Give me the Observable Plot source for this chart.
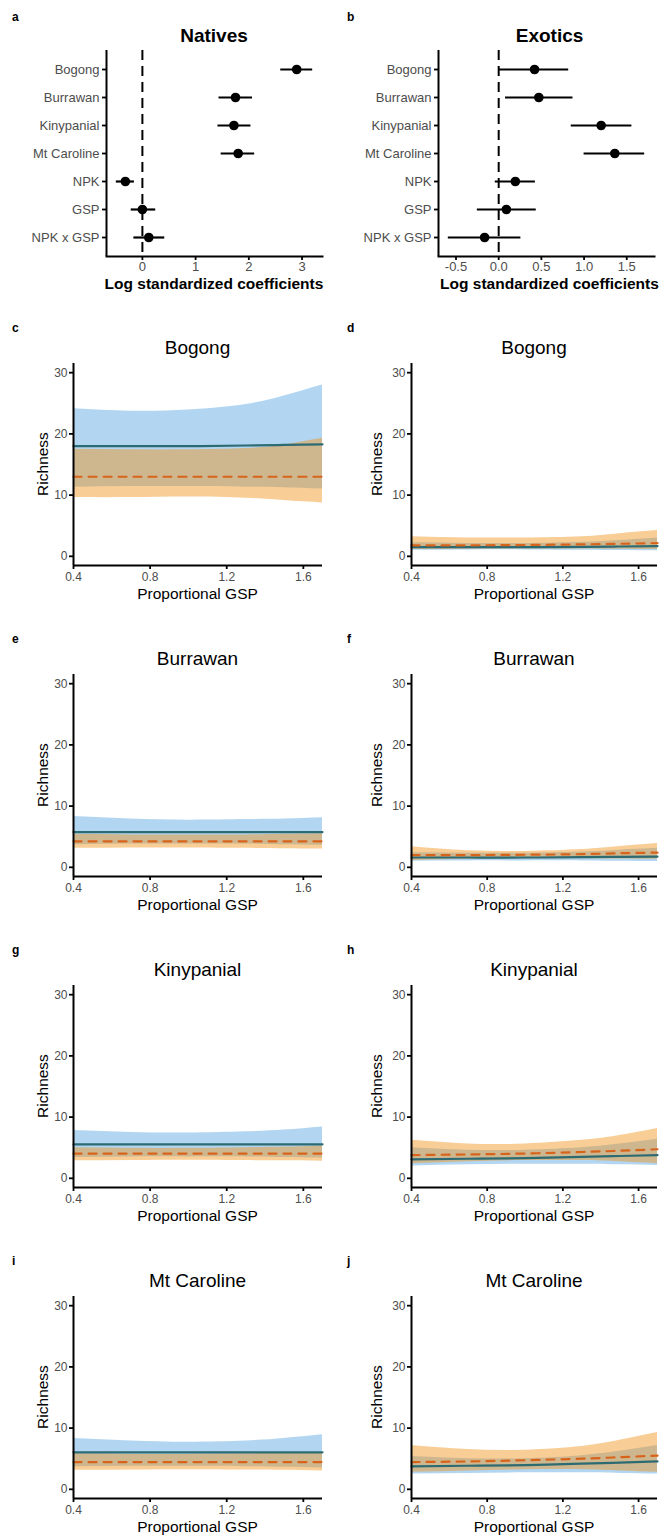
<!DOCTYPE html>
<html><head><meta charset="utf-8">
<script src="https://cdn.jsdelivr.net/npm/d3@7"></script>
<script src="https://cdn.jsdelivr.net/npm/@observablehq/plot@0.6"></script>
<style>
body{margin:0;background:#fff;}
#page{position:relative;width:664px;height:1537px;overflow:hidden;font-family:"Liberation Sans",Arial,Helvetica,sans-serif;}
.t{position:absolute;white-space:nowrap;line-height:1;color:#000;}
.abs{position:absolute;}
</style></head><body><div id="page"></div>
<script>
// ---------- coefficient panels (a, b) ----------
const terms = ["Bogong","Burrawan","Kinypanial","Mt Caroline","NPK","GSP","NPK x GSP"];
const nativeEst = [2.90, 1.75, 1.72, 1.80, -0.32, 0.00, 0.12];
const nativeLo  = [2.60, 1.44, 1.42, 1.48, -0.49, -0.21, -0.16];
const nativeHi  = [3.20, 2.07, 2.04, 2.11, -0.15, 0.25, 0.42];
const exoticEst = [0.42, 0.47, 1.20, 1.36, 0.195, 0.09, -0.165];
const exoticLo  = [0.00, 0.08, 0.85, 1.00, -0.04, -0.25, -0.59];
const exoticHi  = [0.82, 0.87, 1.56, 1.71, 0.43, 0.44, 0.26];
const nativeTicks = [0, 1, 2, 3];
const exoticTicks = [-0.5, 0, 0.5, 1, 1.5];

// ---------- predicted richness panels (c - j) ----------
const sites = ["Bogong","Burrawan","Kinypanial","Mt Caroline"];
const gspX = [0.4, 0.7, 1.0, 1.3, 1.5, 1.7];
const gspTicks = [0.4, 0.8, 1.2, 1.6];
const richTicks = [0, 10, 20, 30];

const natBogongBlue   = {fit:[18.0,18.0,18.0,18.1,18.2,18.3], lo:[11.3,11.4,11.4,11.3,11.2,11.0], hi:[24.1,23.7,23.9,24.8,26.2,28.0]};
const natBogongOrange = {fit:[13.0,13.0,13.0,13.0,13.0,13.0], lo:[9.6,9.6,9.7,9.5,9.1,8.7], hi:[17.5,17.4,17.4,17.6,18.2,19.3]};
const exoBogongBlue   = {fit:[1.5,1.5,1.5,1.55,1.6,1.65], lo:[1.0,1.05,1.05,1.0,0.95,0.9], hi:[2.2,2.1,2.1,2.3,2.6,3.0]};
const exoBogongOrange = {fit:[1.8,1.8,1.85,1.95,2.05,2.15], lo:[1.1,1.15,1.2,1.2,1.15,1.1], hi:[3.2,3.0,3.0,3.2,3.7,4.2]};

const natBurrawanBlue   = {fit:[5.75,5.75,5.75,5.75,5.75,5.75], lo:[3.7,3.8,3.8,3.8,3.7,3.6], hi:[8.3,7.9,7.7,7.8,7.9,8.1]};
const natBurrawanOrange = {fit:[4.25,4.25,4.25,4.25,4.25,4.25], lo:[3.1,3.15,3.15,3.1,3.05,3.0], hi:[5.4,5.3,5.3,5.3,5.4,5.5]};
const exoBurrawanBlue   = {fit:[1.6,1.6,1.6,1.65,1.7,1.75], lo:[1.0,1.05,1.05,1.05,1.0,0.95], hi:[2.4,2.3,2.3,2.5,2.8,3.1]};
const exoBurrawanOrange = {fit:[2.0,2.0,2.05,2.15,2.3,2.4], lo:[1.1,1.3,1.4,1.4,1.35,1.3], hi:[3.35,2.7,2.6,2.9,3.4,3.9]};

const natKinypanialBlue   = {fit:[5.55,5.55,5.55,5.55,5.55,5.55], lo:[3.4,3.5,3.5,3.5,3.4,3.3], hi:[7.8,7.5,7.4,7.6,7.9,8.4]};
const natKinypanialOrange = {fit:[4.05,4.05,4.05,4.05,4.05,4.05], lo:[2.85,2.9,2.95,2.9,2.85,2.8], hi:[5.0,4.9,4.9,5.0,5.1,5.3]};
const exoKinypanialBlue   = {fit:[3.1,3.2,3.3,3.5,3.65,3.8], lo:[2.0,2.2,2.3,2.3,2.2,2.1], hi:[5.0,4.6,4.6,5.0,5.6,6.4]};
const exoKinypanialOrange = {fit:[3.8,3.9,4.05,4.3,4.5,4.75], lo:[2.4,2.7,2.9,2.9,2.7,2.4], hi:[6.2,5.6,5.6,6.2,7.0,8.15]};

const natMtCarolineBlue   = {fit:[6.05,6.05,6.05,6.05,6.05,6.05], lo:[3.7,3.75,3.75,3.7,3.6,3.5], hi:[8.3,7.9,7.7,7.9,8.3,8.9]};
const natMtCarolineOrange = {fit:[4.45,4.45,4.45,4.45,4.45,4.45], lo:[3.1,3.15,3.2,3.15,3.1,3.0], hi:[5.8,5.7,5.7,5.8,5.9,6.0]};
const exoMtCarolineBlue   = {fit:[3.75,3.85,3.95,4.2,4.35,4.55], lo:[2.5,2.6,2.7,2.7,2.6,2.5], hi:[5.35,5.0,5.0,5.5,6.2,7.15]};
const exoMtCarolineOrange = {fit:[4.45,4.55,4.75,5.0,5.25,5.5], lo:[2.8,3.0,3.2,3.2,3.0,2.8], hi:[7.15,6.5,6.4,7.0,8.0,9.3]};

const nativePanels = [[natBogongBlue,natBogongOrange],[natBurrawanBlue,natBurrawanOrange],[natKinypanialBlue,natKinypanialOrange],[natMtCarolineBlue,natMtCarolineOrange]];
const exoticPanels = [[exoBogongBlue,exoBogongOrange],[exoBurrawanBlue,exoBurrawanOrange],[exoKinypanialBlue,exoKinypanialOrange],[exoMtCarolineBlue,exoMtCarolineOrange]];
const panelLetters = [["c","d"],["e","f"],["g","h"],["i","j"]];

// ---------- style ----------
const FONT = '"Liberation Sans", Arial, Helvetica, sans-serif';
const blueFill = "#3f99dc", orangeFill = "#ef9016";
const blueLine = "#2d6b73", orangeLine = "#d8641c";
const tickGrey = "#4d4d4d";

const page = document.getElementById("page");
function addText(txt, x, y, o = {}) {
  const d = document.createElement("div");
  d.className = "t";
  d.textContent = txt;
  d.style.left = x + "px";
  d.style.top = y + "px";
  d.style.fontSize = (o.size || 12) + "px";
  d.style.fontWeight = o.weight || "normal";
  d.style.color = o.color || "#000";
  const tx = o.anchor === "start" ? "0" : "-50%";
  d.style.transform = `translate(${tx},-50%)` + (o.rotate ? ` rotate(${o.rotate}deg)` : "");
  page.appendChild(d);
}
function place(svg, left, top) {
  const w = document.createElement("div");
  w.className = "abs";
  w.style.left = left + "px";
  w.style.top = top + "px";
  w.appendChild(svg);
  page.appendChild(w);
}
function expandDomain(lo, hi) {
  const mn = d3.min(lo), mx = d3.max(hi), pad = (mx - mn) * 0.05;
  return [mn - pad, mx + pad];
}

function coefPanel(est, lo, hi, ticks, fmt) {
  const data = terms.map((t, i) => ({term: t, est: est[i], lo: lo[i], hi: hi[i]}));
  const domain = expandDomain(lo, hi);
  return Plot.plot({
    width: 332, height: 256,
    marginLeft: 106, marginRight: 10, marginTop: 10, marginBottom: 40,
    style: {fontFamily: FONT, fontSize: "13px", background: "transparent", overflow: "visible"},
    x: {domain, label: null},
    y: {type: "point", domain: terms, padding: 0.62, label: null},
    marks: [
      Plot.ruleX([0], {stroke: "black", strokeWidth: 2, strokeDasharray: "10,6"}),
      Plot.ruleY(data, {y: "term", x1: "lo", x2: "hi", stroke: "black", strokeWidth: 2.2}),
      Plot.dot(data, {y: "term", x: "est", r: 4.8, fill: "black", stroke: "none"}),
      Plot.axisY({tickSize: 4, tickPadding: 3, stroke: "black", strokeWidth: 1.8, fill: tickGrey, fontSize: 13, label: null}),
      Plot.axisX({ticks, tickFormat: fmt, tickSize: 4, tickPadding: 1, stroke: "black", strokeWidth: 1.8, fill: tickGrey, fontSize: 13, label: null}),
      Plot.ruleX([domain[0]], {stroke: "black", strokeWidth: 2}),
      Plot.frame({anchor: "bottom", stroke: "black", strokeWidth: 2})
    ]
  });
}

function richPanel(pair, mLeft, mRight) {
  const [blue, orange] = pair;
  const rows = (s) => gspX.map((x, i) => ({x, fit: s.fit[i], lo: s.lo[i], hi: s.hi[i]}));
  const B = rows(blue), O = rows(orange);
  return Plot.plot({
    width: 332, height: 250,
    marginLeft: mLeft, marginRight: mRight, marginTop: 8, marginBottom: 40,
    style: {fontFamily: FONT, fontSize: "12px", background: "transparent", overflow: "visible"},
    x: {domain: [0.4, 1.7], label: null},
    y: {domain: [-1.5, 31.5], label: null},
    marks: [
      Plot.areaY(B, {x: "x", y1: "lo", y2: "hi", fill: blueFill, fillOpacity: 0.4, curve: "natural"}),
      Plot.areaY(O, {x: "x", y1: "lo", y2: "hi", fill: orangeFill, fillOpacity: 0.45, curve: "natural"}),
      Plot.lineY(B, {x: "x", y: "fit", stroke: blueLine, strokeWidth: 2.2, curve: "natural"}),
      Plot.lineY(O, {x: "x", y: "fit", stroke: orangeLine, strokeWidth: 2.2, strokeDasharray: "8,7", curve: "natural"}),
      Plot.axisY({ticks: richTicks, tickSize: 4, tickPadding: 2, stroke: "black", strokeWidth: 1.8, fill: tickGrey, fontSize: 12, label: null}),
      Plot.axisX({ticks: gspTicks, tickFormat: d => d.toFixed(1), tickSize: 4, tickPadding: 3, stroke: "black", strokeWidth: 1.8, fill: tickGrey, fontSize: 12, label: null}),
      Plot.ruleX([0.4], {stroke: "black", strokeWidth: 2}),
      Plot.ruleY([-1.5], {stroke: "black", strokeWidth: 2})
    ]
  });
}

// top row
place(coefPanel(nativeEst, nativeLo, nativeHi, nativeTicks, d => String(d)), 0, 40);
place(coefPanel(exoticEst, exoticLo, exoticHi, exoticTicks, d => d.toFixed(1)), 332, 40);
addText("a", 12, 17, {size: 12, weight: "bold", anchor: "start"});
addText("b", 347, 17, {size: 12, weight: "bold", anchor: "start"});
addText("Natives", 214, 35, {size: 19, weight: "bold"});
addText("Exotics", 549.5, 35, {size: 19, weight: "bold"});
addText("Log standardized coefficients", 214, 284, {size: 15.5, weight: "bold"});
addText("Log standardized coefficients", 549.5, 284, {size: 15.5, weight: "bold"});

// lower rows
sites.forEach((site, r) => {
  const top = 363 + r * 311;
  // natives (left column)
  place(richPanel(nativePanels[r], 73, 10), 0, top - 8);
  // exotics (right column)
  place(richPanel(exoticPanels[r], 79, 7), 332, top - 8);
  addText(panelLetters[r][0], 12, top - 35, {size: 12, weight: "bold", anchor: "start"});
  addText(panelLetters[r][1], 347, top - 35, {size: 12, weight: "bold", anchor: "start"});
  addText(site, 197.5, top - 16, {size: 19});
  addText(site, 534, top - 16, {size: 19});
  addText("Richness", 43, top + 101, {size: 15.5, rotate: -90});
  addText("Richness", 377, top + 101, {size: 15.5, rotate: -90});
  addText("Proportional GSP", 197.5, top + 231, {size: 15.5});
  addText("Proportional GSP", 534, top + 231, {size: 15.5});
});
</script></body></html>
